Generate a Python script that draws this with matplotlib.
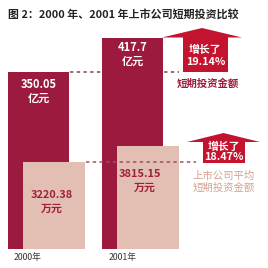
import matplotlib
matplotlib.use("Agg")
import matplotlib.pyplot as plt
from matplotlib.patches import Polygon

plt.rcParams['font.family'] = ['Noto Sans CJK SC', 'DejaVu Sans']

# ---- data ----
years = ["2000年", "2001年"]
total_invest = [350.05, 417.7]          # 亿元
avg_invest = [3220.38, 3815.15]         # 万元
total_texts = ["350.05", "417.7"]
avg_texts = ["3220.38", "3815.15"]
growth_labels = ["19.14%", "18.47%"]
title = "图 2：2000 年、2001 年上市公司短期投资比较"
total_unit = "亿元"
avg_unit = "万元"
total_name = "短期投资金额"
avg_name = "上市公司平均\n短期投资金额"

DARK = "#9c1a3e"
LIGHT = "#e3beb3"
ARROW = "#c3132f"
LIGHT_TXT = "#a0203c"
PINK_TXT = "#d3a395"

W = H = 268
fig = plt.figure(figsize=(2.68, 2.68), dpi=100)
fig.patch.set_facecolor("white")

base_px = 249
ax1 = fig.add_axes([0, (H - base_px) / H, 1, base_px / H])
ax1.set_facecolor("none")
ax2 = ax1.twinx()
for a in (ax1, ax2):
    a.axis("off")

unit = 94.0
x0 = 38.5
ax1.set_xlim(-x0 / unit, (W - x0) / unit)
ax1.set_ylim(0, total_invest[0] * base_px / 177)
ax2.set_ylim(0, avg_invest[0] * base_px / 87)

xs = list(range(len(years)))
off = 15.5 / unit
ax1.bar(xs, total_invest, width=61 / unit, color=DARK, zorder=2)
ax2.bar([x + off for x in xs], avg_invest, width=62 / unit, color=LIGHT, zorder=2)

# dashed reference lines
ax1.plot([xs[0] + 31 / unit, xs[1] + 46 / unit], [total_invest[0]] * 2,
         ls=(0, (2.2, 2.2)), color="#7a4a55", lw=1.1, zorder=1)
ax2.plot([xs[0] + off + 32 / unit, xs[1] + 63 / unit], [avg_invest[0]] * 2,
         ls=(0, (2.2, 2.2)), color="#a05060", lw=1.1, zorder=5)

# bar labels (offsets in pixels from bar top)
dark_off = [(-12.5, -26), (-9.5, -24)]
for x, v, t, (o1, o2) in zip(xs, total_invest, total_texts, dark_off):
    ax1.annotate(t, (x, v), xytext=(0, o1),
                 textcoords="offset pixels", ha="center", va="center",
                 color="white", fontsize=8.0, fontweight="bold", zorder=6)
    ax1.annotate(total_unit, (x, v), xytext=(0, o2), textcoords="offset pixels",
                 ha="center", va="center", color="white", fontsize=8.0,
                 fontweight="bold", zorder=6)
light_off = [((-2, -33), (-2, -46.5)), ((-8.5, -28), (-3.5, -41.5))]
for x, v, t, (p1, p2) in zip(xs, avg_invest, avg_texts, light_off):
    ax2.annotate(t, (x + off, v), xytext=p1,
                 textcoords="offset pixels", ha="center", va="center",
                 color=LIGHT_TXT, fontsize=7.9, fontweight="bold", zorder=6)
    ax2.annotate(avg_unit, (x + off, v), xytext=p2,
                 textcoords="offset pixels", ha="center", va="center",
                 color=LIGHT_TXT, fontsize=7.9, fontweight="bold", zorder=6)

# year labels
for x, lab in zip(xs, years):
    ax1.annotate(lab, (x, 0), xytext=(-11 if x == 0 else -10, -4),
                 textcoords="offset pixels", ha="center", va="top",
                 color="#333333", fontsize=6.3, annotation_clip=False)

# overlay for decorations in pixel coordinates
ov = fig.add_axes([0, 0, 1, 1])
ov.set_xlim(0, W)
ov.set_ylim(H, 0)
ov.axis("off")
ov.set_zorder(10)
ov.patch.set_alpha(0)

def arrow(xl, xr, apex, hb, sl, sr, bottom):
    xm = (xl + xr) / 2
    pts = [(sl, bottom), (sl, hb), (xl, hb), (xm, apex), (xr, hb), (sr, hb), (sr, bottom)]
    ov.add_patch(Polygon(pts, closed=True, color=ARROW, lw=0))

arrow(162, 242, 28, 37.5, 183, 228, 72)
arrow(187, 260, 133, 142, 203, 245, 163)

ov.text(205.5, 50, "增长了", ha="center", va="center", color="white",
        fontsize=7.8, fontweight="bold")
ov.text(205.5, 62, growth_labels[0], ha="center", va="center", color="white",
        fontsize=7.8, fontweight="bold")
ov.text(224, 146.5, "增长了", ha="center", va="center", color="white",
        fontsize=7.8, fontweight="bold")
ov.text(224, 157, growth_labels[1], ha="center", va="center", color="white",
        fontsize=7.8, fontweight="bold")

ov.text(207.5, 84, total_name, ha="center", va="center", color=DARK,
        fontsize=7.5, fontweight="bold")
ov.text(224, 181.5, avg_name, ha="center", va="center", color=PINK_TXT,
        fontsize=7.5, linespacing=1.25)

ov.text(8, 14, title, ha="left", va="center", color="#222222",
        fontsize=7.9, fontweight="bold")

fig.savefig("out.png", dpi=100, facecolor="white")
